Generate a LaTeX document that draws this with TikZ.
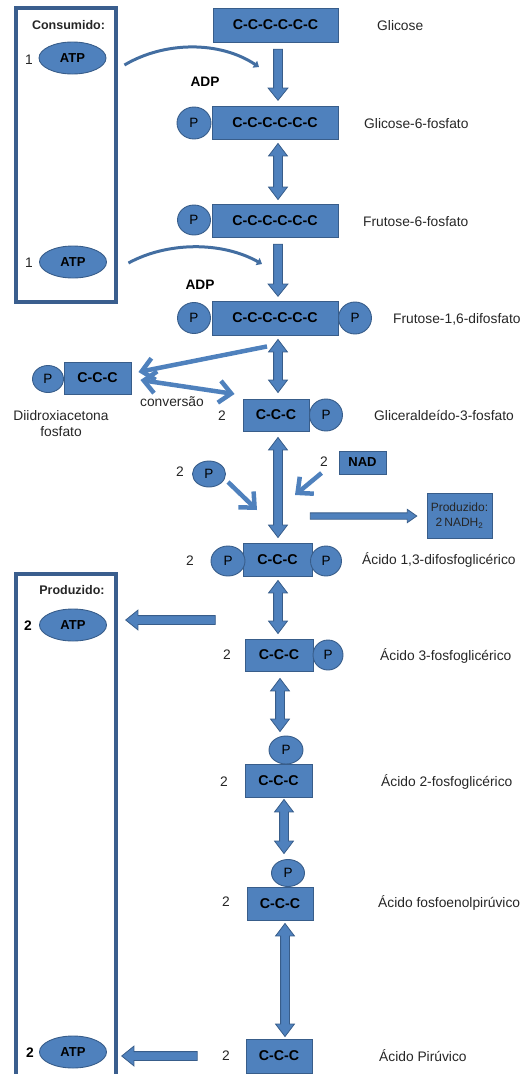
\documentclass[tikz,border=0pt]{standalone}
\usepackage{fontspec}
\setmainfont{Liberation Sans}
\usetikzlibrary{shapes.geometric,shapes.arrows,arrows.meta,calc}
\definecolor{bfill}{HTML}{4F81BD}
\definecolor{bdark}{HTML}{385D8A}
\definecolor{frame}{HTML}{3A5E8E}
\definecolor{ink}{HTML}{262626}

\newcommand{\fs}[2][]{\fontsize{#2}{#2}\selectfont}

% block arrow (one head) between two points
\newcommand{\onearrow}[3][]{%
  \path let \p1=#2, \p2=#3,
    \n1={veclen(\x2-\x1,\y2-\y1)}, \n2={atan2(\y2-\y1,\x2-\x1)} in
    ($(\p1)!0.5!(\p2)$) node[blockone,#1,minimum height=\n1,rotate=\n2] {};}
% block arrow (two heads) between two points
\newcommand{\twoarrow}[3][]{%
  \path let \p1=#2, \p2=#3,
    \n1={veclen(\x2-\x1,\y2-\y1)}, \n2={atan2(\y2-\y1,\x2-\x1)} in
    ($(\p1)!0.5!(\p2)$) node[blocktwo,#1,minimum height=\n1,rotate=\n2] {};}

\begin{document}
\begin{tikzpicture}[x=1pt,y=-1pt,
  chain/.style={rectangle,draw=bdark,fill=bfill,line width=0.9pt,inner sep=0pt,
    font=\bfseries\fs{14.2},text=black},
  phos/.style={ellipse,draw=bdark,fill=bfill,line width=0.9pt,inner sep=0pt,
    minimum width=33,minimum height=31,font=\fs{13.5},text=black},
  atp/.style={ellipse,draw=bdark,fill=bfill,line width=0.9pt,inner sep=0pt,
    minimum width=67,minimum height=32,font=\bfseries\fs{13},text=black},
  lbl/.style={anchor=west,inner sep=0pt,font=\fs{13.8},text=ink,text height=9pt,text depth=0pt},
  num/.style={inner sep=0pt,font=\fs{13.8},text=ink,text height=9pt,text depth=0pt},
  numb/.style={num,font=\bfseries\fs{13.8},text=black},
  head/.style={inner sep=0pt,font=\bfseries\fs{12.5},text=ink,text height=9pt,text depth=0pt},
  frameline/.style={draw=frame,line width=3.5pt},
  blockone/.style={single arrow,draw=bdark,fill=bfill,line width=0.8pt,inner sep=0pt,
    text height=8pt,text depth=0pt,minimum width=0pt,
    single arrow head extend=5.5pt,single arrow tip angle=78,single arrow head indent=0pt},
  blocktwo/.style={double arrow,draw=bdark,fill=bfill,line width=0.8pt,inner sep=0pt,
    text height=8pt,text depth=0pt,minimum width=0pt,
    double arrow head extend=5pt,double arrow tip angle=74,double arrow head indent=0pt},
  barbtip/.tip={Straight Barb[length=12pt,width=22pt,line width=4.5pt]},
  barb/.style={draw=bfill,line width=4.5pt,-barbtip},
  barbboth/.style={draw=bfill,line width=4.5pt,barbtip-barbtip},
  curve/.style={draw=bfill!85!black,line width=3pt,-{Triangle[length=5pt,width=8pt]}}
]
\useasboundingbox (0,0) rectangle (520,1074);

% side frames: consumed and produced ATP
\draw[frameline] (16,8) rectangle (116,302);
\draw[frameline] (16,1082) -- (16,574) -- (116,574) -- (116,1082);

\node[head] (consT) at (68.5,25) {Consumido:};
\node[atp] (atp1) at (72.5,58) {ATP};
\node[num] (n1) at (29,60) {1};
\node[atp] (atp2) at (73,262) {ATP};
\node[num] (n2) at (29,263) {1};
\node[head] (prodT) at (72,590) {Produzido:};
\node[atp] (atp3) at (73,625) {ATP};
\node[numb] (n3) at (28,626) {2};
\node[atp] (atp4) at (73,1052) {ATP};
\node[numb] (n4) at (30,1053) {2};

% six-carbon stage
\node[chain,minimum width=125,minimum height=34] (glic) at (275.5,25) {C-C-C-C-C-C};
\node[lbl] (glicL) at (377,26) {Glicose};

\node[chain,minimum width=126,minimum height=33] (g6p) at (275,122.5) {C-C-C-C-C-C};
\node[phos,minimum width=34,minimum height=32] (g6pP) at (194,123) {P};
\node[lbl] (g6pL) at (364,124) {Glicose-6-fosfato};

\node[chain,minimum width=126,minimum height=33] (f6p) at (275,220.5) {C-C-C-C-C-C};
\node[phos,minimum width=33,minimum height=30] (f6pP) at (194,220) {P};
\node[lbl] (f6pL) at (363,222) {Frutose-6-fosfato};

\node[chain,minimum width=126,minimum height=34] (f16) at (275,318) {C-C-C-C-C-C};
\node[phos,minimum width=33,minimum height=31] (f16Pa) at (194,318) {P};
\node[phos,minimum width=33,minimum height=32] (f16Pb) at (355,318) {P};
\node[lbl] (f16L) at (393,319) {Frutose-1,6-difosfato};

\node[head,font=\bfseries\fs{13.7},text=black] (adp1) at (205,82) {ADP};
\node[head,font=\bfseries\fs{13.7},text=black] (adp2) at (200,285) {ADP};

% ATP consumption curves
\coordinate (c1s) at ([shift={(18,7)}]atp1.east);
\coordinate (c1e) at (259,67);
\draw[curve] (c1s) .. controls (165,41) and (220,41) .. (c1e);
\coordinate (c2s) at ([shift={(21.5,1)}]atp2.east);
\coordinate (c2e) at (262,264);
\draw[curve] (c2s) .. controls (168,241.5) and (222,241.5) .. (c2e);

% three-carbon stage
\node[chain,minimum width=67,minimum height=32] (dhap) at (97.5,378) {C-C-C};
\node[phos,minimum width=31,minimum height=27] (dhapP) at (48,379) {P};
\node[num,align=center,text height=,text depth=,font=\fontsize{13.8}{16}\selectfont] (dhapL) at (61,424) {Diidroxiacetona\\fosfato};
\node[num] (conv) at (172,402) {conversão};

\node[chain,minimum width=66,minimum height=32] (g3p) at (276,415) {C-C-C};
\node[phos,minimum width=33,minimum height=32] (g3pP) at (326,415) {P};
\node[num] (g3pN) at (222,416) {2};
\node[lbl] (g3pL) at (374,416) {Gliceraldeído-3-fosfato};

\node[phos,minimum width=33,minimum height=26] (p2) at (209,474) {P};
\node[num] (p2N) at (180,472) {2};
\node[chain,minimum width=47,minimum height=23,font=\bfseries\fs{13}] (nad) at (362.5,462.5) {NAD};
\node[num] (nadN) at (324,462) {2};
\node[rectangle,draw=bdark,fill=bfill,line width=0.9pt,inner sep=0pt,minimum width=65,minimum height=45,
  align=center,font=\fontsize{12}{15}\selectfont,text=ink] (prodN) at (459.5,515.5) {Produzido:\\2\,NADH\textsubscript{2}};

\node[chain,minimum width=69,minimum height=33] (bpg) at (277.5,560) {C-C-C};
\node[phos,minimum width=34,minimum height=30] (bpgPa) at (228,561) {P};
\node[phos,minimum width=31,minimum height=30] (bpgPb) at (326,561) {P};
\node[num] (bpgN) at (190,561) {2};
\node[lbl] (bpgL) at (362,560) {Ácido 1,3-difosfoglicérico};

\node[chain,minimum width=68,minimum height=32] (pg3) at (279,655) {C-C-C};
\node[phos,minimum width=30,minimum height=30] (pg3P) at (328,655) {P};
\node[num] (pg3N) at (227,655) {2};
\node[lbl] (pg3L) at (380,656) {Ácido 3-fosfoglicérico};

\node[chain,minimum width=67,minimum height=33] (pg2) at (278.5,780.5) {C-C-C};
\node[phos,minimum width=34,minimum height=28] (pg2P) at (286,750) {P};
\node[num] (pg2N) at (224,782) {2};
\node[lbl] (pg2L) at (381,782) {Ácido 2-fosfoglicérico};

\node[chain,minimum width=66,minimum height=33] (pep) at (280,903.5) {C-C-C};
\node[phos,minimum width=33,minimum height=27] (pepP) at (288,873) {P};
\node[num] (pepN) at (226,902) {2};
\node[lbl] (pepL) at (378,903) {Ácido fosfoenolpirúvico};

\node[chain,minimum width=66,minimum height=34] (pyr) at (279,1056) {C-C-C};
\node[num] (pyrN) at (226,1056) {2};
\node[lbl] (pyrL) at (379,1057) {Ácido Pirúvico};

% main pathway arrows
\onearrow{([shift={(2.5,4)}]glic.south)}{([shift={(3,-8)}]g6p.north)}
\twoarrow{([shift={(3,4)}]g6p.south)}{([shift={(3,-4)}]f6p.north)}
\onearrow{([shift={(3,4)}]f6p.south)}{([shift={(3,-7)}]f16.north)}
\twoarrow{([shift={(3,4)}]f16.south)}{([shift={(2,-6)}]g3p.north)}
\twoarrow{([shift={(2,6)}]g3p.south)}{([shift={(0.5,-5.5)}]bpg.north)}
\twoarrow{([shift={(0.5,3.5)}]bpg.south)}{([shift={(-1,-5)}]pg3.north)}
\twoarrow{([shift={(1,7)}]pg3.south)}{([shift={(-6,-4)}]pg2P.north)}
\twoarrow{([shift={(5.5,2)}]pg2.south)}{([shift={(-4,-5.5)}]pepP.north)}
\twoarrow{([shift={(5,3)}]pep.south)}{([shift={(6,-2)}]pyr.north)}

% NADH output and ATP output arrows
\coordinate (nstart) at (308,516);
\onearrow[text height=5.5pt,single arrow head extend=3.5pt,single arrow tip angle=70]{(nstart)}{([shift={(-12,0.5)}]prodN.west)}
\coordinate (a3s) at (218,620);
\onearrow{(a3s)}{([shift={(21.5,-5)}]atp3.east)}
\coordinate (a4s) at ([shift={(-22,0)}]pyrN.west);
\onearrow{(a4s)}{([shift={(17.5,4)}]atp4.east)}

% side reactions
\draw[barb] ([shift={(-8,11)}]f16.south) -- ([shift={(7,-6)}]dhap.east);
\draw[barbboth] ([shift={(9,2)}]dhap.east) -- ([shift={(-8,-21)}]g3p.west);
\coordinate (pin) at (257,510);
\draw[barb] ([shift={(19,8)}]p2.center) -- (pin);
\coordinate (nadin) at (295,495);
\draw[barb] ([shift={(-17,10.5)}]nad.west) -- (nadin);
\end{tikzpicture}
\end{document}
